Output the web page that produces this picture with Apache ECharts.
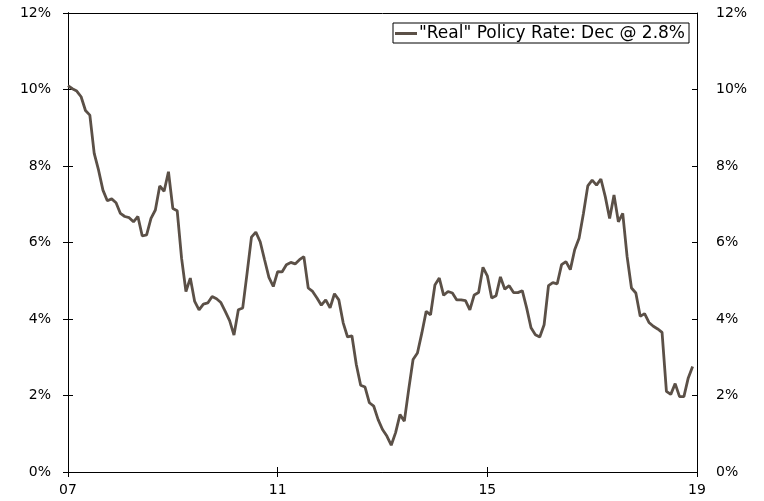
<!DOCTYPE html>
<html lang="en">

<head>
    <meta http-equiv="Content-Type" content="text/html; charset=utf-8" />
    <title>Real Policy Rate</title>
    <style>
        html,
        body,
        #myChart {
            width: 100%;
            height: 100%;
            margin: 0;
            padding: 0;
            overflow: hidden;
            background: #ffffff;
        }
    </style>
</head>

<body>
    <div id="myChart"></div>
    <script src="https://cdn.jsdelivr.net/npm/echarts@6/dist/echarts.min.js"></script>
    <script>
        // monthly, Jan 2007 .. Dec 2018 (x = months since Jan 2007)
        var seriesName = '"Real" Policy Rate: Dec @ 2.8%';
        var realRate = [
            10.1, 10.02, 9.96, 9.81, 9.45, 9.33, 8.33, 7.89, 7.37, 7.09, 7.14, 7.04,
            6.76, 6.68, 6.65, 6.54, 6.68, 6.17, 6.2, 6.63, 6.85, 7.48, 7.34, 7.85,
            6.89, 6.83, 5.59, 4.72, 5.07, 4.46, 4.24, 4.39, 4.42, 4.59, 4.53, 4.43,
            4.2, 3.96, 3.58, 4.24, 4.29, 5.2, 6.14, 6.27, 6.02, 5.55, 5.09, 4.85,
            5.24, 5.23, 5.42, 5.48, 5.44, 5.55, 5.63, 4.81, 4.72, 4.55, 4.36, 4.5,
            4.29, 4.66, 4.5, 3.9, 3.53, 3.56, 2.81, 2.27, 2.22, 1.81, 1.72, 1.37,
            1.11, 0.94, 0.7, 1.03, 1.5, 1.33, 2.16, 2.94, 3.11, 3.63, 4.2, 4.11,
            4.89, 5.07, 4.62, 4.72, 4.68, 4.5, 4.5, 4.48, 4.24, 4.63, 4.69, 5.35,
            5.13, 4.55, 4.61, 5.1, 4.78, 4.87, 4.69, 4.69, 4.74, 4.29, 3.77, 3.59,
            3.53, 3.85, 4.87, 4.95, 4.92, 5.42, 5.5, 5.29, 5.81, 6.11, 6.76, 7.48,
            7.63, 7.5, 7.66, 7.2, 6.63, 7.24, 6.54, 6.76, 5.63, 4.81, 4.68, 4.07,
            4.14, 3.91, 3.81, 3.74, 3.65, 2.11, 2.03, 2.31, 1.97, 1.97, 2.46, 2.76
        ];
        var xTickLabels = ['07', '11', '15', '19'];
        var yTicks = [0, 2, 4, 6, 8, 10, 12];

        var lineData = [];
        for (var i = 0; i < realRate.length; i++) {
            lineData.push([i, realRate[i]]);
        }

        var font = 'DejaVu Sans';
        var axisColor = '#000000';
        var lineColor = '#5b5047';

        function yAxisCfg(pos, inside, showLabel) {
            return {
                type: 'value',
                position: pos,
                min: yTicks[0],
                max: yTicks[yTicks.length - 1],
                interval: 2,
                offset: 0,
                axisLine: { show: true, lineStyle: { color: axisColor, width: 1 } },
                axisTick: { show: true, inside: inside, length: 5, lineStyle: { color: axisColor } },
                axisLabel: {
                    show: showLabel,
                    formatter: '{value}%',
                    margin: pos == 'left' ? 17 : 19,
                    color: '#000000',
                    fontFamily: font,
                    fontSize: 14
                },
                splitLine: { show: false }
            };
        }

        function xAxisCfg(pos, inside, showLabel, showTick) {
            return {
                type: 'value',
                position: pos,
                min: 0,
                max: 144,
                interval: 48,
                axisLine: { show: true, onZero: false, lineStyle: { color: axisColor, width: 1 } },
                axisTick: { show: showTick, inside: inside, length: 5, lineStyle: { color: axisColor } },
                axisLabel: {
                    show: showLabel,
                    margin: 11,
                    color: '#000000',
                    fontFamily: font,
                    fontSize: 14,
                    formatter: function (v) {
                        return xTickLabels[Math.round(v / 48)];
                    }
                },
                splitLine: { show: false }
            };
        }

        var myChart = echarts.init(document.getElementById('myChart'));
        var option = {
            animation: false,
            backgroundColor: '#ffffff',
            grid: {
                left: 68,
                right: 67,
                top: 13,
                bottom: 29,
                containLabel: false
            },
            legend: {
                data: [seriesName],
                right: 75,
                top: 23,
                orient: 'horizontal',
                backgroundColor: '#ffffff',
                borderColor: '#000000',
                borderWidth: 1,
                padding: [2, 4, 1, 2],
                icon: 'rect',
                itemWidth: 22,
                itemHeight: 3,
                itemStyle: { color: lineColor },
                textStyle: {
                    color: '#000000',
                    fontFamily: font,
                    fontSize: 17,
                    padding: [0, 0, 0, -3]
                }
            },
            xAxis: [
                xAxisCfg('bottom', false, true, true),
                xAxisCfg('bottom', true, false, true),
                xAxisCfg('top', false, false, false)
            ],
            yAxis: [
                yAxisCfg('left', false, true),
                yAxisCfg('left', true, false),
                yAxisCfg('right', false, true),
                yAxisCfg('right', true, false)
            ],
            series: [{
                name: seriesName,
                type: 'line',
                xAxisIndex: 0,
                yAxisIndex: 0,
                data: lineData,
                symbol: 'none',
                lineStyle: { color: lineColor, width: 2.8 },
                itemStyle: { color: lineColor }
            }]
        };
        myChart.setOption(option);
    </script>
</body>

</html>
